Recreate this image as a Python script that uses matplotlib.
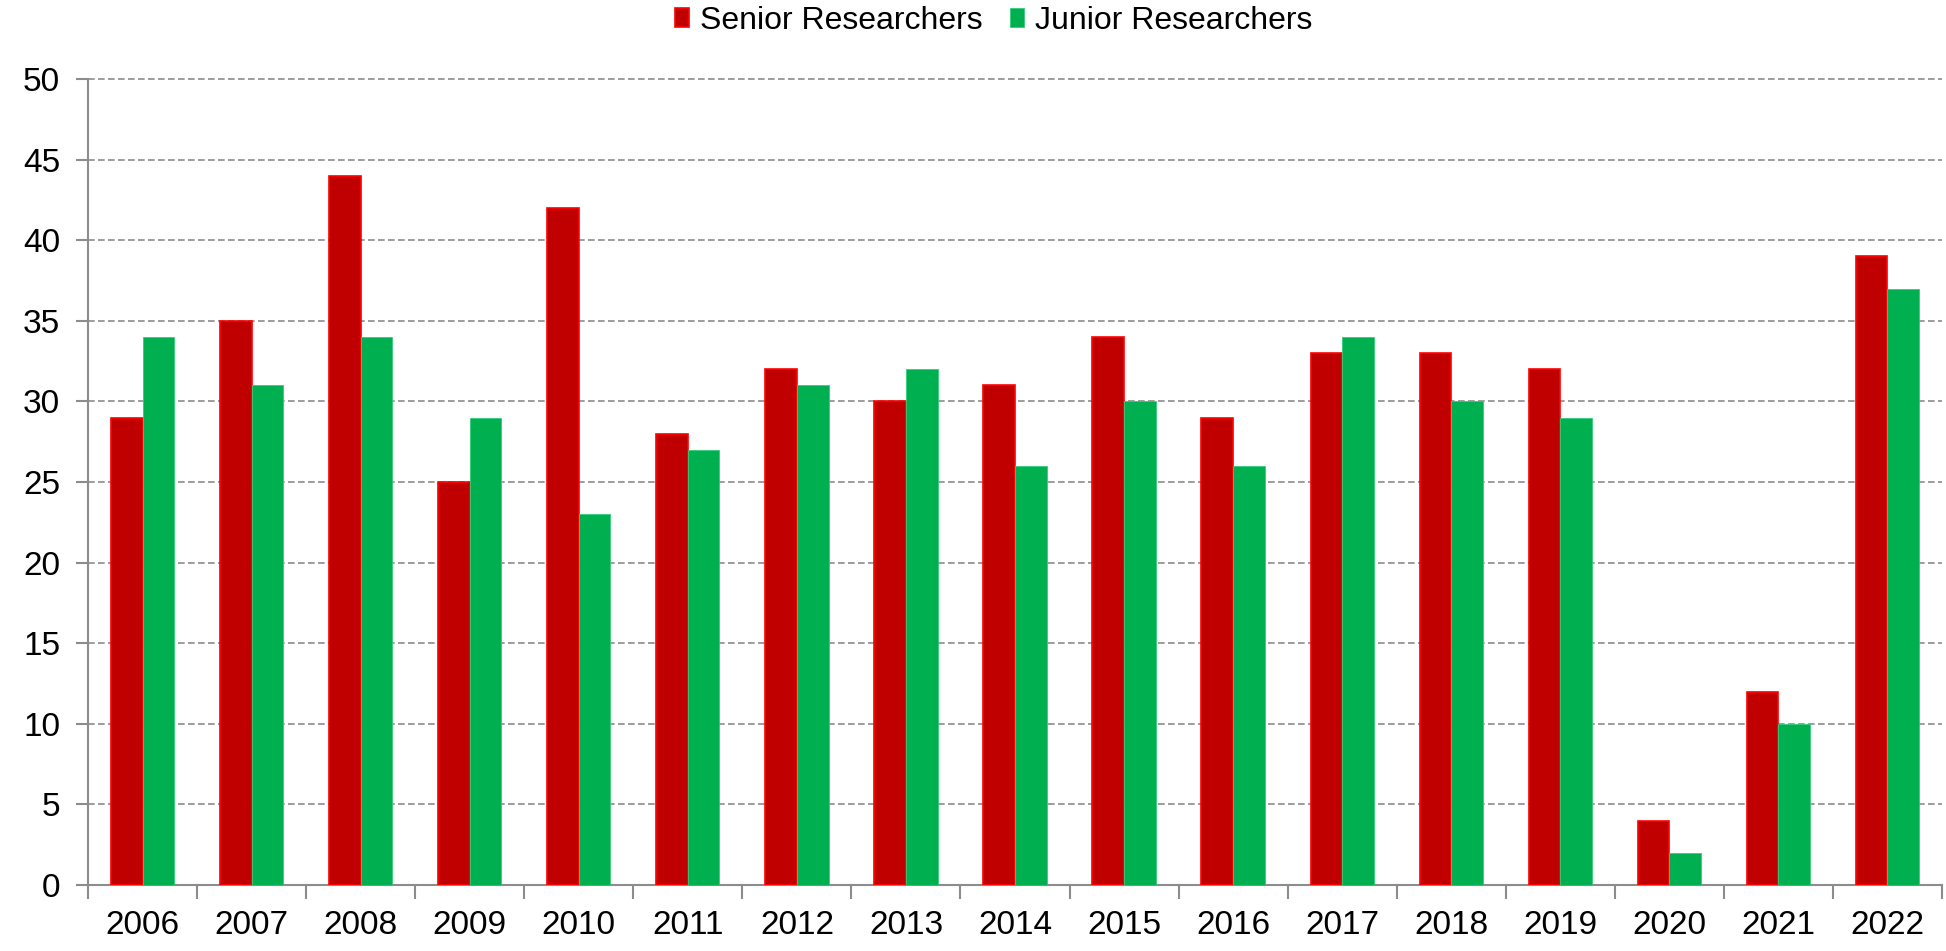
import numpy as np
import matplotlib.pyplot as plt

plt.rcParams['font.family'] = ['Liberation Sans', 'DejaVu Sans']

years = ["2006", "2007", "2008", "2009", "2010", "2011", "2012", "2013", "2014",
         "2015", "2016", "2017", "2018", "2019", "2020", "2021", "2022"]
senior = [29, 35, 44, 25, 42, 28, 32, 30, 31, 34, 29, 33, 33, 32, 4, 12, 39]
junior = [34, 31, 34, 29, 23, 27, 31, 32, 26, 30, 26, 34, 30, 29, 2, 10, 37]

fig = plt.figure(figsize=(19.46, 9.51), dpi=100)
ax = fig.add_axes([88 / 1946, 1 - 885 / 951, (1942 - 88) / 1946, (885 - 79) / 951])

x = np.arange(len(years))
w = 0.29
ax.bar(x - w / 2, senior, w, color="#C00000", edgecolor="#FF0000", linewidth=1.2,
       label="Senior Researchers", zorder=3)
ax.bar(x + w / 2, junior, w, color="#00B050", edgecolor="#33CC77", linewidth=0.6,
       label="Junior Researchers", zorder=3)

ax.set_xlim(-0.5, len(years) - 0.5)
ax.set_ylim(0, 50)
ax.set_yticks(range(0, 51, 5))
ax.yaxis.grid(True, linestyle=(0, (4, 2)), color="#8c8c8c", linewidth=1.2, zorder=0)
for gl in ax.get_ygridlines():
    gl.set_clip_on(False)

ax.set_xticks(x)
ax.set_xticklabels(years)
ax.set_xticks(np.arange(-0.5, len(years), 1), minor=True)
ax.tick_params(axis="x", which="major", length=0, pad=18, labelsize=24)
ax.tick_params(axis="x", which="minor", length=10, width=1.5, color="#8c8c8c")
ax.tick_params(axis="y", length=9, width=1.5, color="#8c8c8c", labelsize=24, pad=11)

for s in ["top", "right"]:
    ax.spines[s].set_visible(False)
for s in ["left", "bottom"]:
    ax.spines[s].set_color("#8c8c8c")
    ax.spines[s].set_linewidth(1.5)

fig.legend(loc="center", bbox_to_anchor=(994 / 1946, 1 - 21 / 951), ncol=2,
           frameon=False, fontsize=23, handlelength=0.44, handleheight=0.55,
           handletextpad=0.35, columnspacing=0.85)

fig.savefig("out.png", dpi=100)
